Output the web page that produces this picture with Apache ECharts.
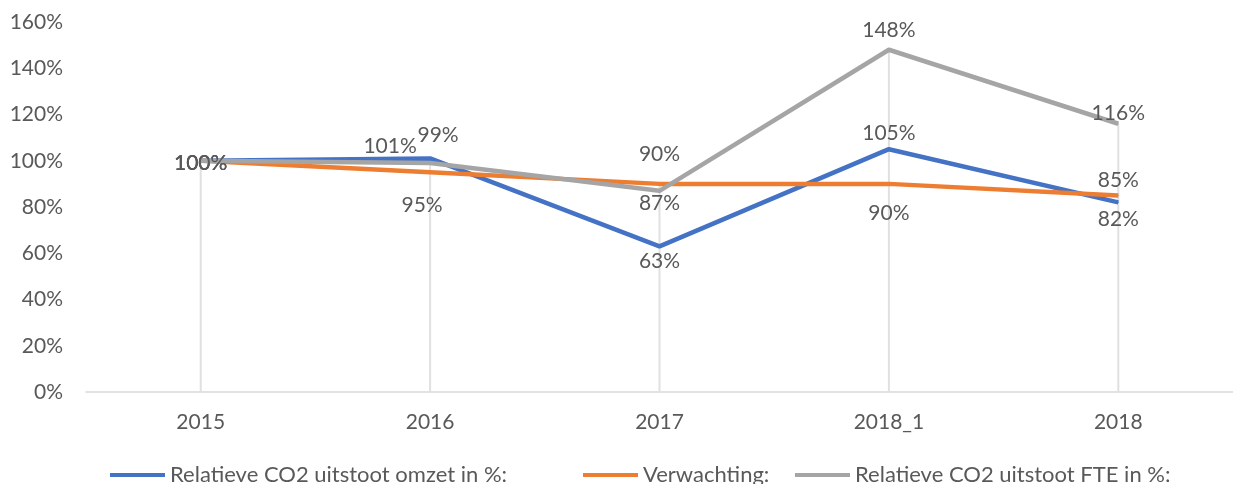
<!DOCTYPE html>
<html><head><meta charset="utf-8">
<script src="https://cdn.jsdelivr.net/npm/echarts@6/dist/echarts.min.js"></script>
<style>html,body{margin:0;padding:0;background:#fff}#c{width:1233px;height:484px}</style>
</head><body><div id="c"></div>
<script>
const categories = ['2015', '2016', '2017', '2018_1', '2018'];
const omzet = [100, 101, 63, 105, 82];
const verwachting = [100, 95, 90, 90, 85];
const fte = [100, 99, 87, 148, 116];
const yTicks = [0, 20, 40, 60, 80, 100, 120, 140, 160];

const names = ['Relatieve CO2 uitstoot omzet in %:', 'Verwachting:', 'Relatieve CO2 uitstoot FTE in %:'];
const colors = ['#4472C4', '#ED7D31', '#A5A5A5'];
// label offsets (styling only)
const offsets = [
  [[0,2],[-40,-12],[0,15],[0,-16],[0,17]],
  [[0,2],[-8,33],[0,-30],[0,29],[0,-15]],
  [[0,2],[8,-28],[0,12],[0,-20],[0,-11]]
];
const seriesVals = [omzet, verwachting, fte];
const dropTop = categories.map((_, i) => Math.max(omzet[i], verwachting[i], fte[i]));

const font = 'Lato, "Open Sans", sans-serif';
const txt = '#595959';

const lineSeries = seriesVals.map((vals, s) => ({
  name: names[s],
  type: 'line',
  z: 3 + s,
  symbol: 'circle',
  symbolSize: 1,
  showSymbol: true,
  itemStyle: { color: colors[s] },
  lineStyle: { width: 4.5, color: colors[s], join: 'round' },
  data: vals.map((v, i) => ({
    value: v,
    label: { offset: offsets[s][i] }
  })),
  label: {
    show: true, position: 'inside',
    formatter: p => p.value + '%',
    color: txt, fontFamily: font, fontSize: 21
  },
  emphasis: { disabled: true },
  animation: false
}));

const legendPos = [105, 578, 790];
const chart = echarts.init(document.getElementById('c'));
chart.setOption({
  animation: false,
  grid: { left: 86, right: -3, top: 22, bottom: 92 },
  legend: names.map((n, i) => ({
    data: [n], left: legendPos[i], top: 459,
    icon: 'rect', itemWidth: 55, itemHeight: 4,
    textStyle: { color: txt, fontFamily: font, fontSize: 22 }
  })),
  xAxis: {
    type: 'category', data: categories, boundaryGap: true,
    axisLine: { lineStyle: { color: '#d9d9d9', width: 1.5 } },
    axisTick: { show: false },
    axisLabel: { color: txt, fontFamily: font, fontSize: 21, margin: 20 },
    splitLine: { show: false }
  },
  yAxis: {
    type: 'value', min: yTicks[0], max: yTicks[yTicks.length - 1], interval: 20,
    axisLine: { show: false }, axisTick: { show: false },
    splitLine: { show: false },
    axisLabel: { color: txt, fontFamily: font, fontSize: 21, margin: 23, formatter: v => v + '%' }
  },
  series: [{
    type: 'bar', data: dropTop, barWidth: 2, z: 1, silent: true,
    itemStyle: { color: '#e0e0e0' }, emphasis: { disabled: true }
  }].concat(lineSeries)
});
</script></body></html>
